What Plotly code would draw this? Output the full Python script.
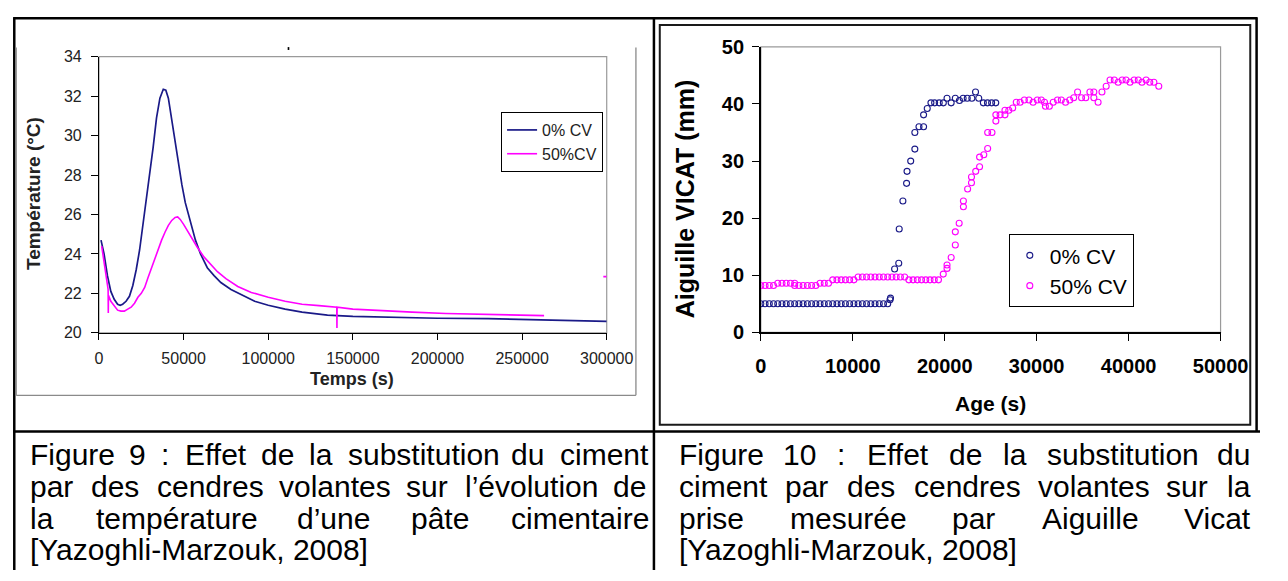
import plotly.graph_objects as go

W, H = 1288, 581

# ---------------- data : Figure 9 (temperature) ----------------
temps_0cv = [1200, 3000, 5000, 7000, 9000, 11000, 12500, 14000, 16000, 18000, 20000, 22000,
             24000, 26000, 28000, 30000, 32000, 34000, 36000, 38000, 39500, 41000, 43000,
             45000, 47000, 49000, 51000, 54000, 57000, 60000, 64000, 68000, 72000, 78000,
             85000, 92000, 100000, 110000, 120000, 135000, 150000, 170000, 200000, 230000,
             260000, 280000, 300000]
temp_0cv = [24.7, 24.0, 22.9, 22.1, 21.7, 21.45, 21.4, 21.45, 21.6, 21.85, 22.4, 23.2,
            24.2, 25.5, 26.7, 27.9, 29.4, 30.9, 31.9, 32.35, 32.3, 31.9, 30.8,
            29.6, 28.5, 27.5, 26.6, 25.6, 24.7, 24.0, 23.3, 22.9, 22.55, 22.2,
            21.9, 21.6, 21.4, 21.2, 21.05, 20.9, 20.83, 20.78, 20.74, 20.72,
            20.66, 20.62, 20.58]

temps_50cv = [1600, 3000, 4500, 5400, 5500, 5600, 7000, 9000, 11000, 13000, 15000, 17000,
              19000, 21000, 23000, 25000, 27000, 29000, 31000, 33000, 35000, 37000, 39000,
              41000, 43000, 45000, 46500, 48000, 50000, 52000, 55000, 58000, 62000, 66000,
              70000, 75000, 82000, 90000, 100000, 110000, 120000, 130000, 140500, 140600,
              140700, 150000, 165000, 185000, 205000, 225000, 245000, 263000, None,
              298000, 300000]
temp_50cv = [24.4, 23.6, 22.8, 22.2, 21.0, 21.9, 21.6, 21.35, 21.15, 21.1, 21.1, 21.2,
             21.3, 21.5, 21.8, 22.0, 22.3, 22.8, 23.3, 23.8, 24.2, 24.7, 25.1,
             25.45, 25.7, 25.85, 25.88, 25.75, 25.5, 25.2, 24.8, 24.35, 23.85, 23.45,
             23.1, 22.75, 22.35, 22.05, 21.8, 21.6, 21.45, 21.38, 21.3, 20.25,
             21.3, 21.2, 21.12, 21.05, 20.98, 20.94, 20.9, 20.87, None,
             22.85, 22.85]

temp_xticks = [0, 50000, 100000, 150000, 200000, 250000, 300000]
temp_yticks = [20, 22, 24, 26, 28, 30, 32, 34]

# ---------------- data : Figure 10 (Vicat) ----------------
age_0cv = [0, 460, 920, 1380, 1840, 2300, 2760, 3220, 3680, 4140, 4600, 5060, 5520, 5980,
           6440, 6900, 7360, 7820, 8280, 8740, 9200, 9660, 10120, 10580, 11040, 11500,
           11960, 12420, 12880, 13340, 13800, 14050, 14100, 14550, 15000, 15050, 15450,
           15850, 15900, 16300, 16750, 16750, 17200, 17700, 17700, 18100, 18500, 18900,
           19400, 19850, 20250, 20700, 21150, 21600, 22000, 22450, 22950, 23350, 23700,
           24200, 24650, 25100, 25550]
vicat_0cv = [5, 5, 5, 5, 5, 5, 5, 5, 5, 5, 5, 5, 5, 5,
             5, 5, 5, 5, 5, 5, 5, 5, 5, 5, 5, 5,
             5, 5, 5, 5, 5, 5.7, 6.0, 11.1, 12.1, 18.1, 23.0,
             26.1, 28.2, 30.0, 32.1, 35.0, 36.0, 36.0, 38.1, 39.2, 40.2, 40.2,
             40.2, 40.2, 41.0, 40.2, 41.0, 40.6, 41.0, 41.0, 41.0, 42.1, 41.0,
             40.2, 40.2, 40.2, 40.2]

age_50cv = [0, 460, 920, 1380, 1840, 2300, 2760, 3220, 3680, 3680, 4140, 4600, 5060, 5520,
            5980, 6440, 6900, 7360, 7820, 8280, 8740, 9200, 9660, 10120, 10580, 11040,
            11500, 11960, 12420, 12880, 13340, 13800, 14260, 14720, 15180, 15640, 16100,
            16560, 17020, 17480, 17940, 18400, 18860, 19320, 19840, 20250, 20250, 20700,
            21150, 21150, 21570, 22030, 22030, 22490, 22910, 22910, 23370, 23790, 23790,
            24250, 24670, 24670, 25140, 25560, 25560, 26020, 26550, 26550, 26970, 27390,
            27780, 28200, 28660, 29160, 29610, 30070, 30500, 30850, 30950, 31380, 31800,
            32260, 32680, 33140, 33600, 34030, 34450, 34880, 35340, 35790, 36220, 36220,
            36680, 37100, 37560, 37980, 38440, 38860, 39300, 39720, 40150, 40600, 41050,
            41450, 41900, 42300, 42750, 43280]
vicat_50cv = [8.2, 8.2, 8.2, 8.2, 8.6, 8.6, 8.6, 8.6, 8.6, 8.2, 8.2, 8.2, 8.2, 8.2,
              8.2, 8.6, 8.6, 8.6, 9.2, 9.2, 9.2, 9.2, 9.2, 9.2, 9.7, 9.7,
              9.7, 9.7, 9.7, 9.7, 9.7, 9.7, 9.7, 9.7, 9.7, 9.7, 9.2,
              9.2, 9.2, 9.2, 9.2, 9.2, 9.2, 9.2, 10.2, 11.2, 11.8, 13.1,
              15.3, 17.6, 19.1, 22.0, 23.0, 25.1, 26.2, 27.2, 28.2, 29.0, 30.7,
              31.1, 32.2, 35.0, 35.0, 37.0, 38.1, 38.1, 38.1, 38.9, 38.9, 39.3,
              40.3, 40.3, 40.7, 40.7, 40.3, 40.7, 40.7, 40.3, 39.6, 39.6, 40.3,
              40.7, 40.7, 40.3, 40.7, 41.1, 42.1, 41.1, 41.1, 42.1, 42.1, 41.1,
              40.3, 42.1, 43.1, 44.2, 44.2, 43.8, 44.2, 44.2, 43.8, 44.2, 44.2,
              43.8, 44.2, 43.8, 43.8, 43.1]

vicat_xticks = [0, 10000, 20000, 30000, 40000, 50000]
vicat_yticks = [0, 10, 20, 30, 40, 50]

# ---------------- captions ----------------
caption_left = [
    "Figure 9 : Effet de la substitution du ciment",
    "par des cendres volantes sur l\u2019évolution de",
    "la température d\u2019une pâte cimentaire",
    "[Yazoghli-Marzouk, 2008]",
]
caption_right = [
    "Figure 10 : Effet de la substitution du",
    "ciment par des cendres volantes sur la",
    "prise mesurée par Aiguille Vicat",
    "[Yazoghli-Marzouk, 2008]",
]

# ---------------- helpers (layout, in page pixels) ----------------
def fx(px):
    return px / W

def fy(py):
    return 1 - py / H

# Arial / Liberation Sans advance widths (1/1000 em)
AW = {' ': 278, "'": 191, '\u2019': 222, '(': 333, ')': 333, ',': 278, '-': 333, '.': 278,
      ':': 278, '[': 278, ']': 278, 'é': 556, 'â': 556}
for c in '0123456789':
    AW[c] = 556
AW.update(dict(A=667, B=667, C=722, D=722, E=667, F=611, G=778, H=722, I=278, J=500, K=667,
               L=556, M=833, N=722, O=778, P=667, Q=778, R=722, S=667, T=611, U=722, V=667,
               W=944, X=667, Y=667, Z=611))
AW.update(dict(a=556, b=556, c=500, d=556, e=556, f=278, g=556, h=556, i=222, j=222, k=500,
               l=222, m=833, n=556, o=556, p=556, q=556, r=333, s=500, t=278, u=556, v=500,
               w=722, x=500, y=500, z=500))

def text_w(s, size):
    return sum(AW.get(ch, 556) for ch in s) * size / 1000.0

CAP_FONT = 30
CAP_FAMILY = "Liberation Sans, Arial, sans-serif"

annotations = []

def add_caption(lines, x0, x1, ys):
    for k, (line, yc) in enumerate(zip(lines, ys)):
        words = line.split(' ')
        justify = k < len(lines) - 1
        if not justify:
            annotations.append(dict(text=line, x=fx(x0), y=fy(yc), xref='paper', yref='paper',
                                    xanchor='left', yanchor='middle', showarrow=False,
                                    font=dict(size=CAP_FONT, family=CAP_FAMILY, color='black')))
            continue
        widths = [text_w(w, CAP_FONT) for w in words]
        gap = (x1 - x0 - sum(widths)) / (len(words) - 1)
        pos = x0
        for w, ww in zip(words, widths):
            annotations.append(dict(text=w, x=fx(pos), y=fy(yc), xref='paper', yref='paper',
                                    xanchor='left', yanchor='middle', showarrow=False,
                                    font=dict(size=CAP_FONT, family=CAP_FAMILY, color='black')))
            pos += ww + gap

cap_ys = [461, 494, 527, 560]
add_caption(caption_left, 23, 655, cap_ys)
add_caption(caption_right, 689, 1275, cap_ys)

CHART_FAMILY = "Liberation Sans, Arial, sans-serif"

# axis titles
annotations += [
    dict(text="<b>Température (°C)</b>", x=fx(29), y=fy(190), xref='paper', yref='paper',
         textangle=-90, showarrow=False, xanchor='center', yanchor='middle',
         font=dict(size=19, family=CHART_FAMILY, color='#222')),
    dict(text="<b>Temps (s)</b>", x=fx(355), y=fy(382), xref='paper', yref='paper',
         showarrow=False, xanchor='center', yanchor='middle',
         font=dict(size=18, family=CHART_FAMILY, color='#222')),
    dict(text="<b>Aiguille VICAT (mm)</b>", x=fx(697), y=fy(196), xref='paper', yref='paper',
         textangle=-90, showarrow=False, xanchor='center', yanchor='middle',
         font=dict(size=25, family=CHART_FAMILY, color='black')),
    dict(text="<b>Age (s)</b>", x=fx(1011.5), y=fy(408), xref='paper', yref='paper',
         showarrow=False, xanchor='center', yanchor='middle',
         font=dict(size=21, family=CHART_FAMILY, color='black')),
]

NAVY = "#1a1a88"
MAG = "#ff00ff"

fig = go.Figure()
fig.add_trace(go.Scatter(x=temps_0cv, y=temp_0cv, mode='lines', name='0% CV',
                         line=dict(color=NAVY, width=1.7), xaxis='x', yaxis='y',
                         legend='legend', connectgaps=False))
fig.add_trace(go.Scatter(x=temps_50cv, y=temp_50cv, mode='lines', name='50%CV',
                         line=dict(color=MAG, width=1.6), xaxis='x', yaxis='y',
                         legend='legend', connectgaps=False))
fig.add_trace(go.Scatter(x=age_0cv, y=vicat_0cv, mode='markers', name='0% CV',
                         marker=dict(symbol='circle-open', size=6, color=NAVY,
                                     line=dict(width=1.1, color=NAVY)),
                         xaxis='x2', yaxis='y2', legend='legend2'))
fig.add_trace(go.Scatter(x=age_50cv, y=vicat_50cv, mode='markers', name='50% CV',
                         marker=dict(symbol='circle-open', size=6, color=MAG,
                                     line=dict(width=1.1, color=MAG)),
                         xaxis='x2', yaxis='y2', legend='legend2'))

BLK = 'black'
shapes = []
def line(x0, y0, x1, y1, color=BLK, width=2.5):
    shapes.append(dict(type='line', xref='paper', yref='paper', x0=fx(x0), y0=fy(y0),
                       x1=fx(x1), y1=fy(y1), line=dict(color=color, width=width)))

# table borders
line(7.5, 7.5, 1285, 7.5)
line(8.5, 6.5, 8.5, 581)
line(665.5, 6.5, 665.5, 581)
line(1284.5, 6.5, 1284.5, 437)
line(7.5, 437, 1288, 437)
# left picture frame
line(10.5, 38, 10.5, 399.5, color='#8a8a8a', width=1.3)
line(647, 38, 647, 399.5, color='#8a8a8a', width=1.3)
line(10.5, 399.5, 647, 399.5, color='#8a8a8a', width=1.3)
# stray dot
shapes.append(dict(type='rect', xref='paper', yref='paper', x0=fx(289.3), x1=fx(291),
                   y0=fy(40.5), y1=fy(37.5), fillcolor='black', line=dict(width=0)))
# right chart frame
shapes.append(dict(type='rect', xref='paper', yref='paper', x0=fx(671.5), x1=fx(1278),
                   y0=fy(430), y1=fy(14.5), line=dict(color='#1a1a1a', width=2)))
# grey plot-area borders
shapes.append(dict(type='rect', xref='x domain', yref='y domain', x0=0, x1=1, y0=0, y1=1,
                   line=dict(color='#9a9a9a', width=1.2), layer='below'))
shapes.append(dict(type='rect', xref='x2 domain', yref='y2 domain', x0=0, x1=1, y0=0, y1=1,
                   line=dict(color='#9a9a9a', width=1.2), layer='below'))

axis_common = dict(showgrid=False, zeroline=False, showline=True, linecolor='black',
                   ticks='outside', tickcolor='black', mirror=False)

fig.update_layout(
    width=W, height=H, autosize=False,
    margin=dict(l=0, r=0, t=0, b=0),
    paper_bgcolor='white', plot_bgcolor='white',
    showlegend=True,
    xaxis=dict(domain=[fx(95.5), fx(617)], range=[0, 300000], tickvals=temp_xticks,
               tickformat='d', ticklen=6, linewidth=1.2, anchor='y', ticklabelstandoff=5,
               tickfont=dict(size=16, family=CHART_FAMILY, color='#222'), **axis_common),
    yaxis=dict(domain=[fy(334.5), fy(47.5)], range=[20, 34], tickvals=temp_yticks,
               ticklen=7, linewidth=1.2, anchor='x', ticklabelstandoff=6,
               tickfont=dict(size=16, family=CHART_FAMILY, color='#222'), **axis_common),
    xaxis2=dict(domain=[fx(775.3), fx(1247.5)], range=[0, 50000], tickvals=vicat_xticks,
                tickformat='d', ticklen=7, linewidth=1.5, anchor='y2', ticklabelstandoff=8,
                tickfont=dict(size=20, family=CHART_FAMILY, color='black', weight='bold'),
                **axis_common),
    yaxis2=dict(domain=[fy(334), fy(37.3)], range=[0, 50], tickvals=vicat_yticks,
                ticklen=7, linewidth=1.5, anchor='x2', ticklabelstandoff=4,
                tickfont=dict(size=20, family=CHART_FAMILY, color='black', weight='bold'),
                **axis_common),
    legend=dict(x=fx(508.5), y=fy(105), xanchor='left', yanchor='top',
                bgcolor='white', bordercolor='black', borderwidth=1,
                font=dict(size=16, family=CHART_FAMILY, color='#222'),
                itemwidth=30, tracegroupgap=0),
    legend2=dict(x=fx(1030), y=fy(232), xanchor='left', yanchor='top',
                 bgcolor='white', bordercolor='black', borderwidth=1,
                 font=dict(size=21, family=CHART_FAMILY, color='black'),
                 itemwidth=30, tracegroupgap=0),
    shapes=shapes,
    annotations=annotations,
)

fig.write_html("out.html", config={'displayModeBar': False},
               post_script="document.body.style.margin='0';")
